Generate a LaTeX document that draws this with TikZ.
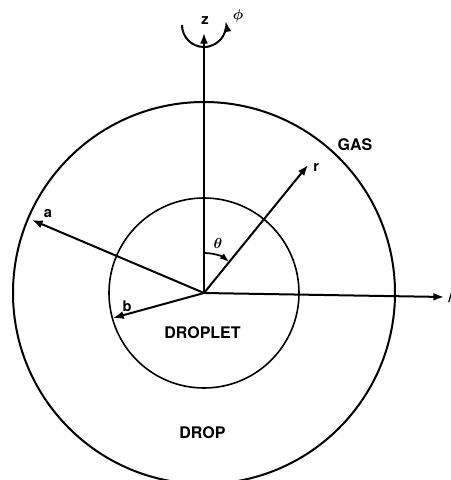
\documentclass[tikz,border=0pt]{standalone}
\usepackage{amsmath}
\usepackage{fontspec}
\setmainfont{TeX Gyre Heros}
\usetikzlibrary{arrows.meta}

\tikzset{
  axisline/.style={line width=1.5pt, -{Latex[length=8pt,width=6pt]}},
  lbl/.style={font=\fontsize{12}{14}\selectfont\bfseries, inner sep=0pt},
  smalllbl/.style={font=\fontsize{11}{13}\selectfont\bfseries, inner sep=0pt}
}

\begin{document}
\begin{tikzpicture}[x=0.75pt, y=0.75pt]
            \useasboundingbox (-204,-187) rectangle (247,293);
            \clip (-204,-187) rectangle (247,293);
            % Centre of drop and droplet
            \coordinate (O) at (0,0);
            
            % Outer drop and inner droplet
            \draw[line width=1.5pt] (O) circle (191);
            \draw[line width=1.2pt] (O) circle (95);
            
            % Axis tips
            \coordinate (ztip) at (0,260);
            \coordinate (xtip) at (240,-4);
            \coordinate (rtip) at (104,128);
            \coordinate (atip) at (-172,73);
            \coordinate (btip) at (-91,-25);
            
            % Axes and radii
            \draw[axisline] (O) -- (ztip);
            \draw[axisline] (O) -- (xtip);
            \draw[axisline] (O) -- (rtip);
            \draw[axisline] (O) -- (atip);
            \draw[axisline] (O) -- (btip);
            
            % Rotation about z
            \draw[axisline] (-22,268) arc (180:370:22);
            \node[smalllbl] (zlab) at (1,272) {z};
            \node[smalllbl] (philab) at (34,277) {$\boldsymbol\phi$};
            
            % Polar angle
            \draw[line width=1.3pt, -{Latex[length=7pt,width=5pt]}] (0,40) arc (90:51:40);
            \node[smalllbl] (thetalab) at (14,50) {$\boldsymbol\theta$};
            
            % Radius labels
            \node[smalllbl, anchor=west] (rlab) at (109,126) {r};
            \node[smalllbl] (alab) at (-156,79) {a};
            \node[smalllbl] (blab) at (-77,-13) {b};
            \node[smalllbl, anchor=west] (xlab) at (244,-4) {/};
            
            % Region labels
            \node[lbl] (gas) at (151,148) {GAS};
            \node[lbl] (droplet) at (-1.5,-40) {DROPLET};
            \node[lbl] (drop) at (-1.5,-140) {DROP};
\end{tikzpicture}
\end{document}
